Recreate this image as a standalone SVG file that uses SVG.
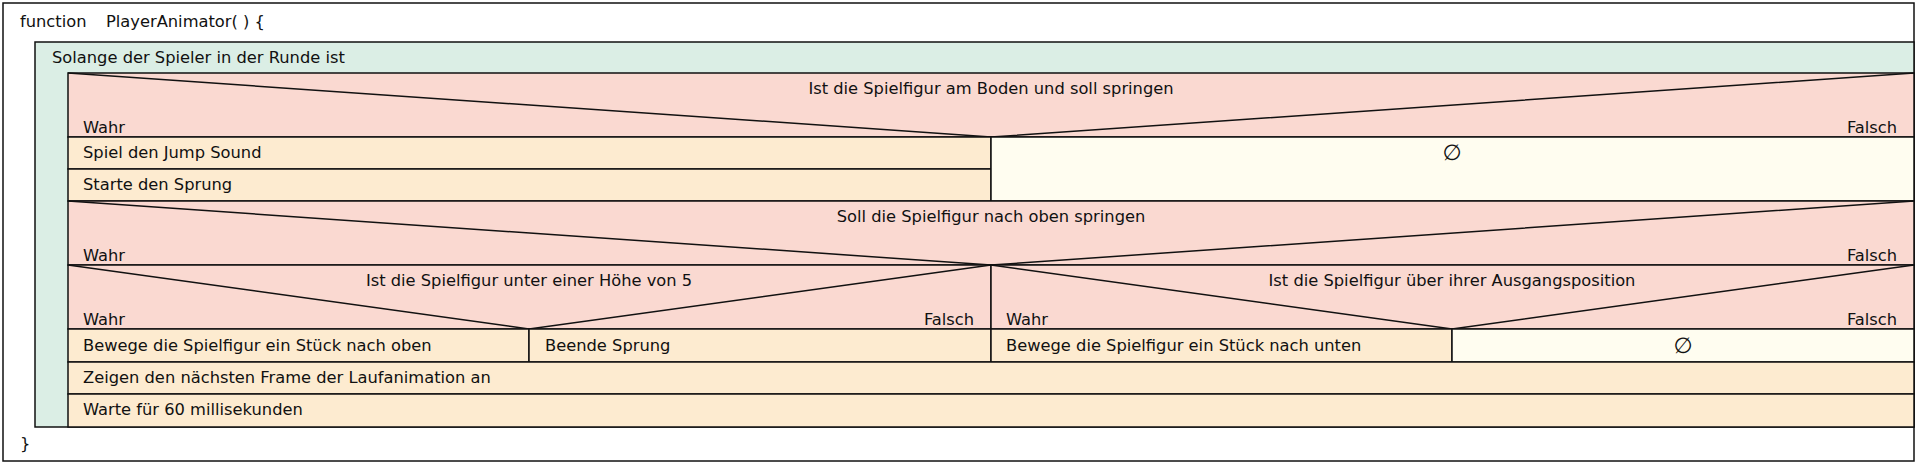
<svg xmlns="http://www.w3.org/2000/svg" width="1920" height="465" viewBox="0 0 1920 465">
<style>
text{font-family:"DejaVu Sans","Verdana",sans-serif;font-size:16.3px;fill:#111}
.b{stroke:#111;stroke-width:1.5}
.fn{fill:#ffffff}
.loop{fill:#dbeee5}
.if{fill:#fad9d1}
.act{fill:#fdebd0}
.emp{fill:#fffdf0}
.c{text-anchor:middle}
.r{text-anchor:end}
.e{font-size:22px}
.d{stroke:#111;stroke-width:1.5;fill:none}
</style>
<rect width="1920" height="465" fill="#ffffff"/>
<g id="function">
<rect class="fn b" x="3" y="3" width="1911" height="458"/>
<text x="20" y="27">function</text>
<text x="106" y="27">PlayerAnimator( ) {</text>
<text x="20" y="449">}</text>
</g>
<g id="loop">
<rect class="loop b" x="35" y="42" width="1879" height="385"/>
<text x="52" y="63">Solange der Spieler in der Runde ist</text>
</g>
<g id="if1">
<rect class="if b" x="68" y="73" width="1846" height="64"/>
<polyline class="d" points="68,73 991,137 1914,73"/>
<text class="c" x="991" y="94">Ist die Spielfigur am Boden und soll springen</text>
<text x="83" y="133">Wahr</text>
<text class="r" x="1897" y="133">Falsch</text>
</g>
<g id="act1">
<rect class="act b" x="68" y="137" width="923" height="32"/>
<text x="83" y="158">Spiel den Jump Sound</text>
</g>
<g id="act2">
<rect class="act b" x="68" y="169" width="923" height="32"/>
<text x="83" y="190">Starte den Sprung</text>
</g>
<g id="empty1">
<rect class="emp b" x="991" y="137" width="923" height="64"/>
<text class="c e" x="1452" y="160">∅</text>
</g>
<g id="if2">
<rect class="if b" x="68" y="201" width="1846" height="64"/>
<polyline class="d" points="68,201 991,265 1914,201"/>
<text class="c" x="991" y="222">Soll die Spielfigur nach oben springen</text>
<text x="83" y="261">Wahr</text>
<text class="r" x="1897" y="261">Falsch</text>
</g>
<g id="if3">
<rect class="if b" x="68" y="265" width="923" height="64"/>
<polyline class="d" points="68,265 529,329 991,265"/>
<text class="c" x="529" y="286">Ist die Spielfigur unter einer Höhe von 5</text>
<text x="83" y="325">Wahr</text>
<text class="r" x="974" y="325">Falsch</text>
</g>
<g id="if4">
<rect class="if b" x="991" y="265" width="923" height="64"/>
<polyline class="d" points="991,265 1452,329 1914,265"/>
<text class="c" x="1452" y="286">Ist die Spielfigur über ihrer Ausgangsposition</text>
<text x="1006" y="325">Wahr</text>
<text class="r" x="1897" y="325">Falsch</text>
</g>
<g id="act3">
<rect class="act b" x="68" y="329" width="461" height="33"/>
<text x="83" y="351">Bewege die Spielfigur ein Stück nach oben</text>
</g>
<g id="act4">
<rect class="act b" x="529" y="329" width="462" height="33"/>
<text x="545" y="351">Beende Sprung</text>
</g>
<g id="act5">
<rect class="act b" x="991" y="329" width="461" height="33"/>
<text x="1006" y="351">Bewege die Spielfigur ein Stück nach unten</text>
</g>
<g id="empty2">
<rect class="emp b" x="1452" y="329" width="462" height="33"/>
<text class="c e" x="1683" y="353">∅</text>
</g>
<g id="act6">
<rect class="act b" x="68" y="362" width="1846" height="32"/>
<text x="83" y="383">Zeigen den nächsten Frame der Laufanimation an</text>
</g>
<g id="act7">
<rect class="act b" x="68" y="394" width="1846" height="33"/>
<text x="83" y="415">Warte für 60 millisekunden</text>
</g>
<g id="connectors"></g>
</svg>
